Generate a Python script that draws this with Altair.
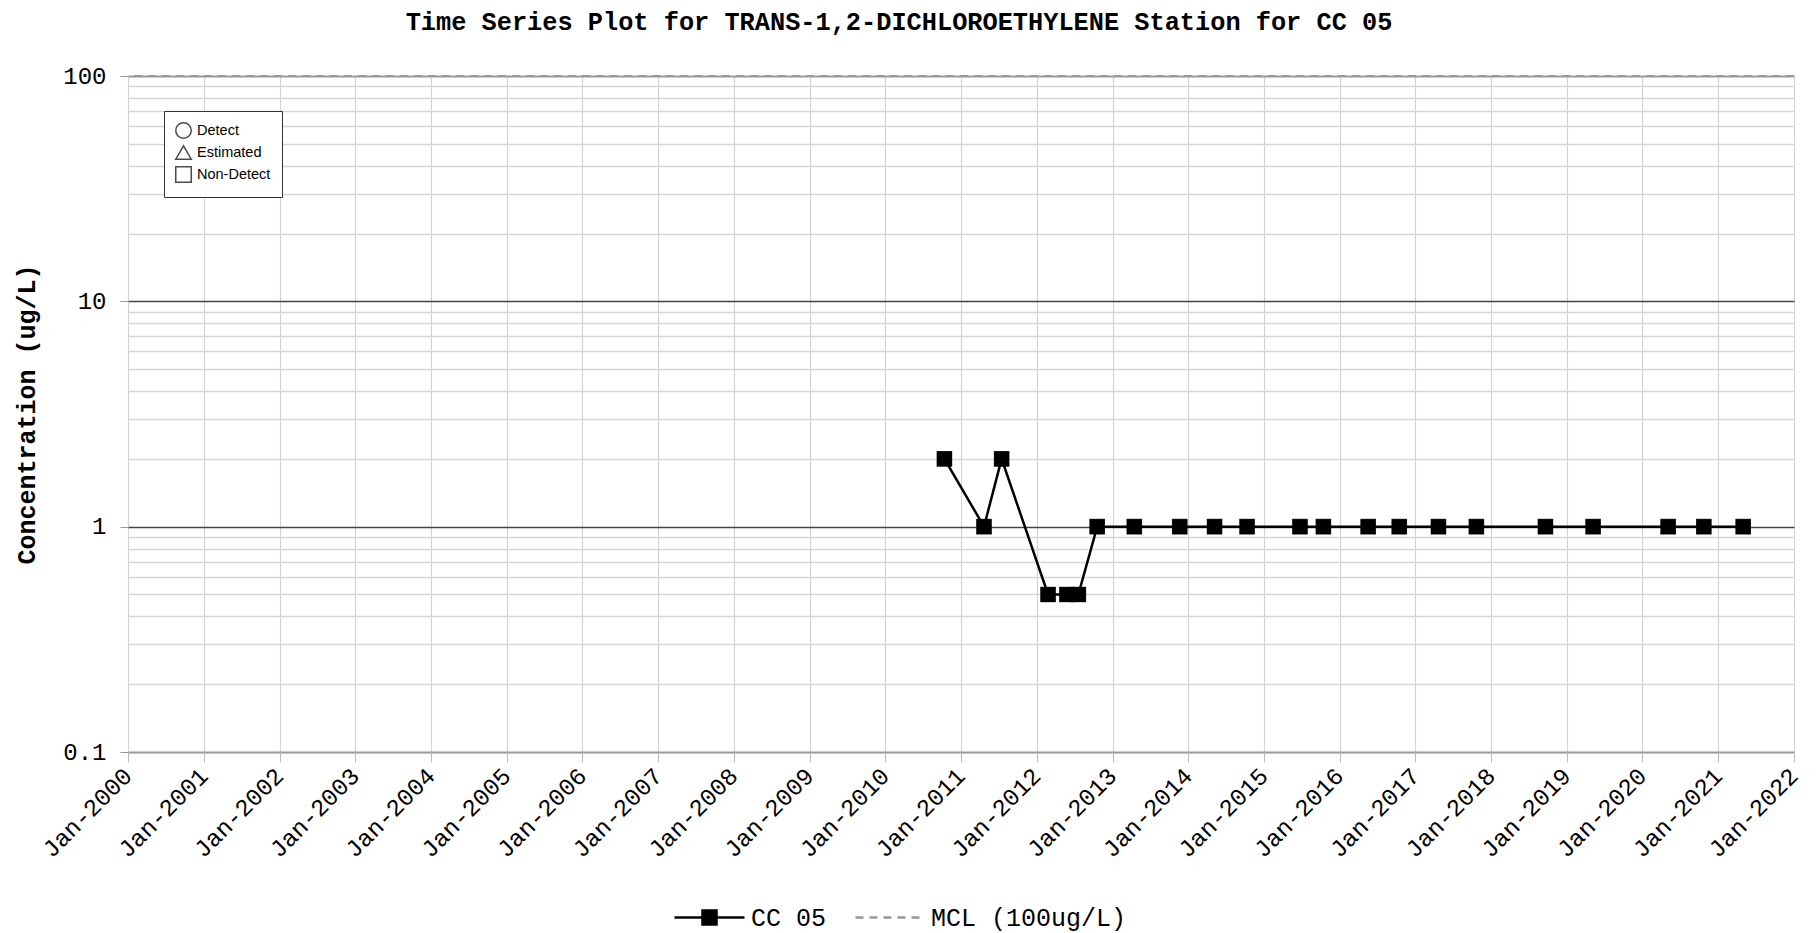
import altair as alt
import pandas as pd

# ---- data ----
sample_dates = [
    "2010-10-13", "2011-04-22", "2011-07-16", "2012-02-25", "2012-05-26",
    "2012-07-20", "2012-10-19", "2013-04-16", "2013-11-21", "2014-05-08",
    "2014-10-12", "2015-06-24", "2015-10-15", "2016-05-18", "2016-10-15",
    "2017-04-22", "2017-10-22", "2018-09-20", "2019-05-08", "2020-05-04",
    "2020-10-23", "2021-05-01",
]
sample_values = [2, 1, 2, 0.5, 0.5, 0.5, 1, 1, 1, 1, 1, 1, 1, 1, 1, 1, 1, 1, 1, 1, 1, 1]
station = "CC 05"
flag_categories = ["Detect", "Estimated", "Non-Detect"]
flag_shapes = ["circle", "triangle-up", "square"]
mcl_label = "MCL (100ug/L)"
mcl_value = [100]
y_ticks = [0.1, 0.2, 0.3, 0.4, 0.5, 0.6, 0.7, 0.8, 0.9,
           1, 2, 3, 4, 5, 6, 7, 8, 9,
           10, 20, 30, 40, 50, 60, 70, 80, 90, 100]
x_years = list(range(2000, 2023))

df = pd.DataFrame({
    "date": sample_dates,
    "value": sample_values,
    "series": [station] * len(sample_dates),
    "flag": ["Non-Detect"] * len(sample_dates),
})
mcl_df = pd.DataFrame({"value": mcl_value, "mcl_series": [mcl_label]})

MONO = "Liberation Mono"
DECADE_TEST = "datum.value == 0.1 || datum.value == 1 || datum.value == 10 || datum.value == 100"

x_enc = alt.X(
    "date:T",
    scale=alt.Scale(
        type="utc",
        domain=[alt.DateTime(year=2000, month=1, date=1, utc=True),
                alt.DateTime(year=2022, month=1, date=1, utc=True)],
    ),
    axis=alt.Axis(
        values=[alt.DateTime(year=y, month=1, date=1, utc=True) for y in x_years],
        format="%b-%Y",
        labelAngle=315,
        labelAlign="right",
        labelBaseline="middle",
        labelFont=MONO,
        labelFontSize=24,
        labelColor="black",
        labelPadding=10,
        tickSize=10,
        tickColor="#bbbbbb",
        gridColor="#d4d4d4",
        gridWidth=1.2,
        domain=False,
        title=None,
        labelOverlap=False,
        labelFlush=False,
    ),
)

y_enc = alt.Y(
    "value:Q",
    scale=alt.Scale(type="log", domain=[0.1, 100]),
    axis=alt.Axis(
        values=y_ticks,
        format="~g",
        labelExpr="(" + DECADE_TEST + ") ? datum.label : ''",
        labelFont=MONO,
        labelFontSize=24,
        labelColor="black",
        labelPadding=14,
        tickSize=8,
        tickColor={"condition": {"test": DECADE_TEST, "value": "#999999"}, "value": "transparent"},
        gridColor={"condition": [
            {"test": "datum.value == 1 || datum.value == 10", "value": "#444444"},
            {"test": "datum.value == 0.1 || datum.value == 100", "value": "#999999"},
        ], "value": "#d6d6d6"},
        gridWidth={"condition": {"test": "datum.value == 0.1 || datum.value == 100", "value": 2},
                   "value": 1.5},
        domain=False,
        title="Concentration (ug/L)",
        titleFont=MONO,
        titleFontSize=25,
        titleFontWeight="bold",
        titleColor="black",
        titleX=-102,
        titleY=338,
        titleAlign="center",
        titleBaseline="middle",
        titleAngle=270,
        labelOverlap=False,
    ),
)

base = alt.Chart(df)

line = base.mark_line(color="black", strokeWidth=2.5).encode(x=x_enc, y=y_enc)

hollow = base.mark_point(filled=False, size=200, strokeWidth=1.5, color="black").encode(
    x=x_enc, y=y_enc,
    shape=alt.Shape(
        "flag:N",
        scale=alt.Scale(domain=flag_categories, range=flag_shapes),
        legend=alt.Legend(
            orient="none", legendX=36, legendY=35,
            title=None,
            padding=11,
            strokeColor="#333333",
            fillColor="white",
            labelFont="Liberation Sans",
            labelFontSize=14.5,
            labelColor="black",
            labelOffset=5,
            rowPadding=0,
            symbolSize=240,
            symbolStrokeColor="black",
            symbolStrokeWidth=1.5,
            symbolFillColor="white",
        ),
    ),
)

squares = base.mark_square(size=225, opacity=1).encode(
    x=x_enc, y=y_enc,
    color=alt.Color(
        "series:N",
        scale=alt.Scale(domain=[station], range=["black"]),
        legend=alt.Legend(
            orient="none", legendX=545, legendY=805,
            title=None,
            padding=0,
            symbolType="M-1,0H1M-0.2,-0.2H0.2V0.2H-0.2Z",
            symbolSize=4900,
            symbolStrokeColor="black",
            symbolStrokeWidth=2.5,
            symbolFillColor="black",
            labelFont=MONO,
            labelFontSize=25,
            labelColor="black",
            labelOffset=5,
            labelLimit=400,
        ),
    ),
)

mcl = alt.Chart(mcl_df).mark_rule(color="#999999", strokeWidth=2).encode(
    y=alt.Y("value:Q"),
    strokeDash=alt.StrokeDash(
        "mcl_series:N",
        scale=alt.Scale(domain=[mcl_label], range=[[8, 6]]),
        legend=alt.Legend(
            orient="none", legendX=726, legendY=805,
            title=None,
            padding=0,
            symbolType="stroke",
            symbolSize=4900,
            symbolStrokeColor="#999999",
            symbolStrokeWidth=2.5,
            labelFont=MONO,
            labelFontSize=25,
            labelColor="black",
            labelOffset=4,
            labelLimit=400,
        ),
    ),
)

chart = alt.layer(mcl, line, hollow, squares).properties(
    width=1666,
    height=676,
    autosize=alt.AutoSizeParams(type="none"),
    padding={"left": 120, "top": 68, "right": 16, "bottom": 180},
    title=alt.TitleParams(
        "Time Series Plot for TRANS-1,2-DICHLOROETHYLENE Station for CC 05",
        font=MONO,
        fontSize=25.3,
        fontWeight="bold",
        color="black",
        anchor="middle",
        baseline="alphabetic",
        dx=-62,
        offset=9,
    ),
).configure_view(stroke="#999999", strokeWidth=2).configure(background="white")

chart.save("out.html", embed_options={"renderer": "svg", "actions": False})
